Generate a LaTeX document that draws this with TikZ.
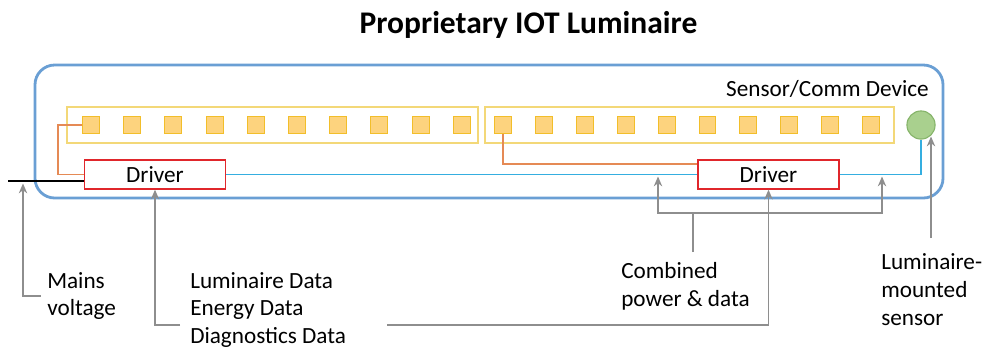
\documentclass[tikz,border=0pt]{standalone}
\usepackage{fontspec}
\setmainfont{Carlito}
\usetikzlibrary{arrows.meta, positioning, calc}

\definecolor{frameblue}{HTML}{6A9FD4}
\definecolor{stripgold}{HTML}{F3D878}
\definecolor{ledfill}{HTML}{FDD37E}
\definecolor{ledline}{HTML}{F2BE2A}
\definecolor{wirered}{HTML}{E0262B}
\definecolor{wireorange}{HTML}{E58A55}
\definecolor{wirecyan}{HTML}{35AEE0}
\definecolor{sensgreen}{HTML}{A9D08E}
\definecolor{sensline}{HTML}{86B46A}
\definecolor{pointgray}{HTML}{8E8E8E}

\tikzset{
  led/.style={draw=ledline, fill=ledfill, line width=0.7pt, minimum size=12pt, inner sep=0pt},
  driver/.style={draw=wirered, line width=1.1pt, fill=white, minimum width=100pt, minimum height=20.5pt, inner sep=0pt},
  pointer/.style={pointgray, line width=0.9pt, -{Stealth[length=7pt, width=6pt]}},
  label text/.style={align=left, inner sep=0pt, font=\fontsize{16.5}{19.9}\selectfont}
}

\begin{document}
\begin{tikzpicture}[x=0.025cm, y=-0.025cm, font=\fontsize{16.5}{19.9}\selectfont]
\useasboundingbox (0,0) rectangle (984,351);

% --- Title ---
\node[anchor=base, font=\fontsize{22.4}{26}\selectfont\bfseries] (title) at (528.5,33) {Proprietary IOT Luminaire};

% --- Luminaire housing ---
\draw[frameblue, line width=2pt, rounded corners=14pt] (35,65) rectangle (943,198);
\node[anchor=east, inner sep=0pt] (commlbl) at (929,89) {Sensor/Comm Device};

% --- LED strips ---
\draw[stripgold, line width=0.8pt] (67,107) rectangle (478,143);
\draw[stripgold, line width=0.8pt] (485,107) rectangle (894,143);
\foreach \i in {0,...,9} {
  \node[led] (ledL\i) at ({91+41.2*\i},125) {};
  \node[led] (ledR\i) at ({503+40.9*\i},125) {};
}

% --- Sensor ---
\node[circle, draw=sensline, fill=sensgreen, line width=0.8pt, minimum size=20pt, inner sep=0pt] (sensor) at (921,125) {};

% --- Drivers ---
\node[driver] (drvL) at (155,174.5) {Driver};
\node[driver] (drvR) at (768.5,174.5) {Driver};

% --- Wiring ---
\coordinate (mains) at (8,181);
\draw[line width=1.2pt] (mains) -- (mains -| drvL.west);
\draw[wireorange, line width=1.3pt] (ledL0.west) -- (58,125) |- (drvL.west);
\draw[wireorange, line width=1.3pt] (ledR0.south) |- ([yshift=-3.5pt]drvR.north west);
\draw[wirecyan, line width=1.3pt] (drvL.east) -- (drvR.west);
\draw[wirecyan, line width=1.3pt] (drvR.east) -| (sensor.south);

% --- Callouts ---
\node[label text, anchor=west] (mainstxt) at (47,296) {Mains\\voltage};
\coordinate (mainstip) at (23,183.5);
\draw[pointer] ([xshift=-4.5pt]mainstxt.west) -| (mainstip);

\node[label text, anchor=west] (datatxt) at (190,310) {Luminaire Data\\Energy Data\\Diagnostics Data};
\coordinate (dataL) at (180,325);
\coordinate (dataR) at (387,325);
\draw[pointer] (dataL) -| (drvL.south);
\draw[pointer] (dataR) -| (drvR.south);

\node[label text, anchor=west] (cmbtxt) at (621,286) {Combined\\power \& data};
\coordinate (cmbstem) at (693,252);
\coordinate (cmbjoin) at (693,213);
\coordinate (busA) at (658,176.5);
\coordinate (busB) at (882,176.5);
\draw[pointer] (cmbstem) -- (cmbjoin) -| (busA);
\draw[pointer] (cmbjoin) -| (busB);

\node[label text, anchor=west] (senstxt) at (881,290) {Luminaire-\\mounted\\sensor};
\coordinate (sensfoot) at (931,238);
\coordinate (senstip) at (931,136.5);
\draw[pointer] (sensfoot) -- (senstip);

\end{tikzpicture}
\end{document}
